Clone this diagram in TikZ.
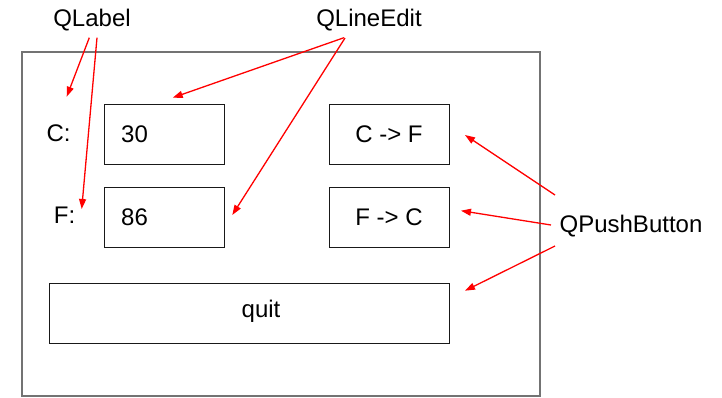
\documentclass[tikz,border=0pt]{standalone}
\usepackage{fontspec}
\setmainfont{Liberation Sans}
\usetikzlibrary{arrows.meta}
\begin{document}
\begin{tikzpicture}[x=1pt,y=-1pt,
  every node/.style={font=\fontsize{24}{28}\selectfont, inner sep=0pt},
  widget/.style={draw=black!90, line width=1pt, minimum width=120pt, minimum height=60pt},
  pointer/.style={draw=red, line width=1.3pt, -{Triangle[length=10pt,width=7pt]}}]
\useasboundingbox (0,0) rectangle (722,397);
% outer window frame
\draw[draw=black!55, line width=1.3pt] (22,52) rectangle (540,396);
% widgets
\node[widget] (ce) at (164.5,134.3) {};
\node[anchor=west] (cv) at (121,134.3) {30};
\node[widget] (fe) at (164.5,217) {};
\node[anchor=west] (fv) at (121,217) {86};
\node[widget] (cf) at (389,134.3) {C -> F};
\node[widget] (fc) at (389,217) {F -> C};
\node[widget, minimum width=400pt] (quit) at (249.3,313.3) {};
\node (qt) at (261,311) {quit};
% labels in window
\node (cl) at (58.5,133) {C:};
\node (fl) at (64.5,215) {F:};
% callout labels
\node (qlabel) at (92,20.5) {QLabel};
\node (qline) at (369,20.5) {QLineEdit};
\node (qpush) at (631,226) {QPushButton};
% arrow endpoints
\coordinate (a1s) at (89.3,37.7);
\coordinate (a1t) at (66.7,96.7);
\coordinate (a2s) at (97,37.7);
\coordinate (a2t) at (81.7,209);
\coordinate (b1s) at (344,37.7);
\coordinate (b1t) at (172.7,97.7);
\coordinate (b2s) at (345,38);
\coordinate (b2t) at (232.3,215);
\coordinate (p1s) at (555,195);
\coordinate (p1t) at (465,135);
\coordinate (p2s) at (551,225);
\coordinate (p2t) at (461,210.7);
\coordinate (p3s) at (555,246);
\coordinate (p3t) at (465,290.7);
\draw[pointer] (a1s) -- (a1t);
\draw[pointer] (a2s) -- (a2t);
\draw[pointer] (b1s) -- (b1t);
\draw[pointer] (b2s) -- (b2t);
\draw[pointer] (p1s) -- (p1t);
\draw[pointer] (p2s) -- (p2t);
\draw[pointer] (p3s) -- (p3t);
\end{tikzpicture}
\end{document}
